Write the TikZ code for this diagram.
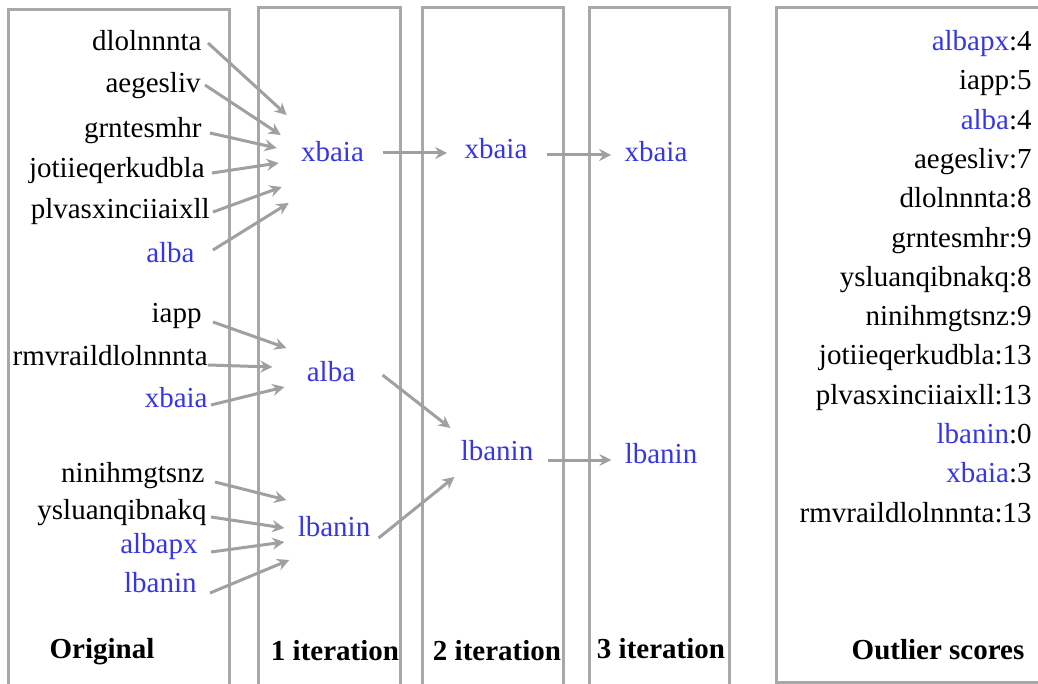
\documentclass[tikz,border=0pt]{standalone}
\usepackage{fontspec}
\setmainfont{LiberationSerif}[Extension=.ttf, UprightFont=*-Regular, BoldFont=*-Bold]
\usetikzlibrary{arrows.meta}
\definecolor{hlblue}{RGB}{55,55,225}
\definecolor{framegray}{RGB}{168,168,168}
\definecolor{flowgray}{RGB}{160,160,160}

\begin{document}
\begin{tikzpicture}
    [x=0.5pt, y=-0.5pt,
     every node/.style={inner sep=0pt, anchor=mid, font=\fontsize{14.5}{17}\selectfont},
     word/.style={anchor=mid east},
     hl/.style={text=hlblue},
     colcap/.style={font=\fontsize{14.5}{17}\selectfont\bfseries},
     colbox/.style={draw=framegray, line width=1.5pt},
     flow/.style={draw=flowgray, line width=1.5pt, -{Stealth[length=6pt, width=6pt]}}]
  \useasboundingbox (0,0) rectangle (1038,684);

  % column frames
  \foreach \l/\r/\t in {8/229/10, 258/400/8, 422/563/8, 589/729/8}
    \draw[colbox] (\l,692) |- (\r,\t) -- (\r,692);
  \draw[colbox] (776,682) rectangle (1046,8);

  % original strings
  \node[word] (o1) at (202,46) {dlolnnnta};
  \node[word] (o2) at (201,88) {aegesliv};
  \node[word] (o3) at (202,133) {grntesmhr};
  \node[word] (o4) at (205,173) {jotiieqerkudbla};
  \node[word] (o5) at (210,214) {plvasxinciiaixll};
  \node[word, hl] (o6) at (195,258) {alba};
  \node[word] (o7) at (202,318) {iapp};
  \node[word] (o8) at (208,361) {rmvraildlolnnnta};
  \node[word, hl] (o9) at (208,403) {xbaia};
  \node[word] (o10) at (205,478) {ninihmgtsnz};
  \node[word] (o11) at (207,515) {ysluanqibnakq};
  \node[word, hl] (o12) at (198,549) {albapx};
  \node[word, hl] (o13) at (197,588) {lbanin};

  % iterations
  \node[hl] (a1x) at (332.5,157) {xbaia};
  \node[hl] (a1a) at (331,377) {alba};
  \node[hl] (a1l) at (334,532) {lbanin};
  \node[hl] (a2x) at (496,154) {xbaia};
  \node[hl] (a2l) at (497,456) {lbanin};
  \node[hl] (a3x) at (656,157) {xbaia};
  \node[hl] (a3l) at (661,459) {lbanin};

  \foreach \from/\sx/\sy/\to/\dx/\dy in {
      o1/6/-3/a1x/-14/-42, o2/4/-3/a1x/-20/-22, o3/8/0/a1x/-24/-9,
      o4/7/0/a1x/-22/6, o5/3/-2/a1x/-19/30, o6/18/-8/a1x/-12/46,
      o7/11/4/a1a/-20/-29, o8/0/4/a1a/-34/-10, o9/3/2/a1a/-22/10,
      o10/10/4/a1l/-11/-32, o11/4/2/a1l/-13/-4, o12/13/3/a1l/-13/10, o13/13/5/a1l/-8/28,
      a1a/27/-2/a2l/-10/-28, a1l/8/6/a2l/-6/21,
      a1x/19/-4/a2x/-17/-1, a2x/19/1/a3x/-13/-2, a2l/14/4/a3l/-13/1}
    \draw[flow] ([shift={(\sx,\sy)}]\from.mid east) -- ([shift={(\dx,\dy)}]\to.mid west);

  % outlier scores
  \node[word] (s1) at (1032,46) {\textcolor{hlblue}{albapx}:4};
  \node[word] (s2) at (1032,85) {iapp:5};
  \node[word] (s3) at (1032,125) {\textcolor{hlblue}{alba}:4};
  \node[word] (s4) at (1032,164) {aegesliv:7};
  \node[word] (s5) at (1032,203) {dlolnnnta:8};
  \node[word] (s6) at (1032,243) {grntesmhr:9};
  \node[word] (s7) at (1032,282) {ysluanqibnakq:8};
  \node[word] (s8) at (1032,321) {ninihmgtsnz:9};
  \node[word] (s9) at (1032,360) {jotiieqerkudbla:13};
  \node[word] (s10) at (1032,400) {plvasxinciiaixll:13};
  \node[word] (s11) at (1032,439) {\textcolor{hlblue}{lbanin}:0};
  \node[word] (s12) at (1032,478) {\textcolor{hlblue}{xbaia}:3};
  \node[word] (s13) at (1032,518) {rmvraildlolnnnta:13};

  % captions
  \node[colcap] (c0) at (102,654) {Original};
  \node[colcap] (c1) at (335,656) {1 iteration};
  \node[colcap] (c2) at (497,656) {2 iteration};
  \node[colcap] (c3) at (661,654) {3 iteration};
  \node[colcap] (c4) at (938,655) {Outlier scores};
\end{tikzpicture}
\end{document}
